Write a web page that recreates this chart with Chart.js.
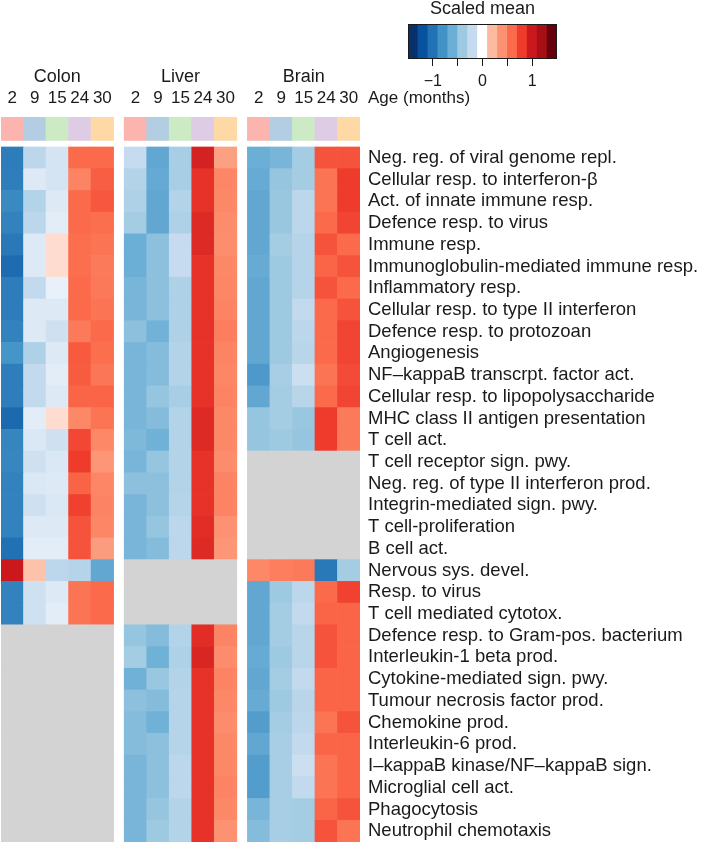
<!DOCTYPE html>
<html>
<head>
<meta charset="utf-8">
<title>Scaled mean by tissue and age</title>
<script src="https://cdn.jsdelivr.net/npm/chart.js@4.4.1/dist/chart.umd.min.js"></script>
<style>
    body { margin: 0; background: #fff; }
    #wrap { position: relative; width: 705px; height: 844px; }
    #heatmap { position: absolute; left: 0; top: 0; }
    #colorbar { position: absolute; left: 380px; top: 0; }
</style>
</head>
<body>
<div id="wrap">
    <canvas id="heatmap" width="705" height="844"></canvas>
    <canvas id="colorbar" width="200" height="90"></canvas>
</div>
<script>
'use strict';

/*
---- data ----
*/
const NA = null; // term not found for this tissue (grey cells)

const tissues = ['Colon', 'Liver', 'Brain'];
const ages = [2, 9, 15, 24, 30];
const ageColors = ['#fbb4ae', '#b3cde3', '#ccebc5', '#decbe4', '#fed9a6'];

const rowLabels = [
    'Neg. reg. of viral genome repl.',
    'Cellular resp. to interferon-β',
    'Act. of innate immune resp.',
    'Defence resp. to virus',
    'Immune resp.',
    'Immunoglobulin-mediated immune resp.',
    'Inflammatory resp.',
    'Cellular resp. to type II interferon',
    'Defence resp. to protozoan',
    'Angiogenesis',
    'NF–kappaB transcrpt. factor act.',
    'Cellular resp. to lipopolysaccharide',
    'MHC class II antigen presentation',
    'T cell act.',
    'T cell receptor sign. pwy.',
    'Neg. reg. of type II interferon prod.',
    'Integrin-mediated sign. pwy.',
    'T cell-proliferation',
    'B cell act.',
    'Nervous sys. devel.',
    'Resp. to virus',
    'T cell mediated cytotox.',
    'Defence resp. to Gram-pos. bacterium',
    'Interleukin-1 beta prod.',
    'Cytokine-mediated sign. pwy.',
    'Tumour necrosis factor prod.',
    'Chemokine prod.',
    'Interleukin-6 prod.',
    'I–kappaB kinase/NF–kappaB sign.',
    'Microglial cell act.',
    'Phagocytosis',
    'Neutrophil chemotaxis',
];

// one row per term, one column per age (2, 9, 15, 24, 30 months)
const colonVals = [
    [-0.93, -0.25, -0.15, 0.60, 0.60],
    [-0.92, -0.12, -0.15, 0.47, 0.65],
    [-0.85, -0.30, -0.12, 0.60, 0.68],
    [-0.90, -0.25, -0.10, 0.60, 0.58],
    [-0.95, -0.12, 0.10, 0.58, 0.55],
    [-1.03, -0.12, 0.10, 0.58, 0.52],
    [-0.93, -0.22, -0.08, 0.60, 0.53],
    [-0.93, -0.12, -0.12, 0.60, 0.55],
    [-0.90, -0.12, -0.17, 0.52, 0.60],
    [-0.78, -0.32, -0.12, 0.67, 0.58],
    [-0.92, -0.22, -0.10, 0.66, 0.54],
    [-0.92, -0.22, -0.12, 0.62, 0.62],
    [-1.05, -0.10, 0.10, 0.45, 0.55],
    [-0.88, -0.13, -0.17, 0.75, 0.45],
    [-0.87, -0.17, -0.13, 0.80, 0.38],
    [-0.90, -0.13, -0.12, 0.63, 0.46],
    [-0.90, -0.17, -0.13, 0.78, 0.47],
    [-0.90, -0.12, -0.12, 0.70, 0.46],
    [-1.00, -0.10, -0.10, 0.70, 0.35],
    [1.00, 0.18, -0.25, -0.28, -0.65],
    [-0.90, -0.17, -0.12, 0.55, 0.60],
    [-0.90, -0.17, -0.10, 0.55, 0.60],
    [NA, NA, NA, NA, NA],
    [NA, NA, NA, NA, NA],
    [NA, NA, NA, NA, NA],
    [NA, NA, NA, NA, NA],
    [NA, NA, NA, NA, NA],
    [NA, NA, NA, NA, NA],
    [NA, NA, NA, NA, NA],
    [NA, NA, NA, NA, NA],
    [NA, NA, NA, NA, NA],
    [NA, NA, NA, NA, NA],
];

const liverVals = [
    [-0.20, -0.65, -0.35, 0.95, 0.33],
    [-0.30, -0.63, -0.35, 0.85, 0.46],
    [-0.32, -0.65, -0.30, 0.85, 0.45],
    [-0.37, -0.65, -0.32, 0.90, 0.43],
    [-0.60, -0.47, -0.20, 0.90, 0.42],
    [-0.60, -0.47, -0.20, 0.85, 0.45],
    [-0.55, -0.47, -0.32, 0.85, 0.46],
    [-0.55, -0.47, -0.32, 0.85, 0.47],
    [-0.47, -0.57, -0.32, 0.85, 0.50],
    [-0.55, -0.50, -0.30, 0.85, 0.47],
    [-0.55, -0.50, -0.30, 0.85, 0.46],
    [-0.55, -0.43, -0.35, 0.85, 0.47],
    [-0.55, -0.50, -0.30, 0.90, 0.45],
    [-0.52, -0.58, -0.30, 0.90, 0.45],
    [-0.55, -0.43, -0.30, 0.85, 0.43],
    [-0.47, -0.47, -0.30, 0.85, 0.47],
    [-0.55, -0.47, -0.28, 0.85, 0.47],
    [-0.55, -0.43, -0.25, 0.88, 0.40],
    [-0.55, -0.50, -0.25, 0.90, 0.38],
    [NA, NA, NA, NA, NA],
    [NA, NA, NA, NA, NA],
    [NA, NA, NA, NA, NA],
    [-0.43, -0.50, -0.30, 0.88, 0.47],
    [-0.37, -0.58, -0.32, 0.92, 0.43],
    [-0.58, -0.42, -0.30, 0.85, 0.47],
    [-0.47, -0.50, -0.28, 0.85, 0.45],
    [-0.50, -0.58, -0.28, 0.85, 0.43],
    [-0.50, -0.47, -0.28, 0.85, 0.45],
    [-0.55, -0.47, -0.25, 0.85, 0.45],
    [-0.55, -0.47, -0.25, 0.85, 0.47],
    [-0.55, -0.43, -0.30, 0.85, 0.45],
    [-0.55, -0.40, -0.30, 0.85, 0.40],
];

const brainVals = [
    [-0.60, -0.55, -0.37, 0.70, 0.70],
    [-0.62, -0.43, -0.37, 0.55, 0.80],
    [-0.65, -0.42, -0.25, 0.55, 0.80],
    [-0.65, -0.42, -0.25, 0.60, 0.76],
    [-0.65, -0.37, -0.28, 0.70, 0.60],
    [-0.62, -0.40, -0.28, 0.62, 0.70],
    [-0.65, -0.40, -0.28, 0.70, 0.60],
    [-0.65, -0.40, -0.22, 0.60, 0.70],
    [-0.65, -0.40, -0.25, 0.60, 0.76],
    [-0.65, -0.40, -0.27, 0.60, 0.76],
    [-0.75, -0.35, -0.18, 0.55, 0.73],
    [-0.65, -0.37, -0.27, 0.60, 0.76],
    [-0.43, -0.37, -0.42, 0.80, 0.52],
    [-0.43, -0.40, -0.43, 0.80, 0.52],
    [NA, NA, NA, NA, NA],
    [NA, NA, NA, NA, NA],
    [NA, NA, NA, NA, NA],
    [NA, NA, NA, NA, NA],
    [NA, NA, NA, NA, NA],
    [0.45, 0.50, 0.52, -0.95, -0.37],
    [-0.65, -0.40, -0.25, 0.60, 0.77],
    [-0.65, -0.37, -0.22, 0.62, 0.62],
    [-0.65, -0.37, -0.27, 0.70, 0.62],
    [-0.62, -0.40, -0.27, 0.70, 0.62],
    [-0.65, -0.37, -0.22, 0.62, 0.62],
    [-0.62, -0.40, -0.27, 0.62, 0.62],
    [-0.72, -0.37, -0.25, 0.55, 0.70],
    [-0.65, -0.35, -0.22, 0.62, 0.62],
    [-0.72, -0.35, -0.18, 0.55, 0.62],
    [-0.72, -0.35, -0.22, 0.55, 0.62],
    [-0.55, -0.35, -0.37, 0.62, 0.70],
    [-0.50, -0.35, -0.37, 0.70, 0.55],
];

// colour scale (bin centres) and colour bar bins
const scaleStops = [-1.4, -1.2, -1.0, -0.8, -0.6, -0.4, -0.2, 0, 0.2, 0.4, 0.6, 0.8, 1.0, 1.2, 1.4];
const scaleColors = ['#08306b', '#08519c', '#2171b5', '#4292c6', '#6baed6', '#9ecae1', '#c6dbef', '#ffffff',
                     '#fcbba1', '#fc9272', '#fb6a4a', '#ef3b2c', '#cb181d', '#a50f15', '#67000d'];
const binEdges = [-1.5, -1.3, -1.1, -0.9, -0.7, -0.5, -0.3, -0.1, 0.1, 0.3, 0.5, 0.7, 0.9, 1.1, 1.3, 1.5];
const barTicks = [-1, -0.5, 0, 0.5, 1];
const barTickLabels = ['−1', '', '0', '', '1'];

/*
---- look ----
*/
const missingColor = '#d3d3d3';
const textColor = '#1a1a1a';
const fontFamily = "'Liberation Sans', Arial, sans-serif";
const tissueOffset = [0, 5.47, 10.94]; // x position of the first column of each tissue block
const xMin = -0.5;
const xMax = 15.44;
const stripTop = -1.38;   // age colour strip above the cells
const stripBottom = -0.3;

function hexToRgb(hex) {
    const n = parseInt(hex.slice(1), 16);
    return [(n >> 16) & 255, (n >> 8) & 255, n & 255];
}

function valueToColor(v) {
    if (v === null) return missingColor;
    const last = scaleStops.length - 1;
    if (v <= scaleStops[0]) return scaleColors[0];
    if (v >= scaleStops[last]) return scaleColors[last];
    let i = 0;
    while (scaleStops[i + 1] < v) i++;
    const f = (v - scaleStops[i]) / (scaleStops[i + 1] - scaleStops[i]);
    const a = hexToRgb(scaleColors[i]);
    const b = hexToRgb(scaleColors[i + 1]);
    const c = a.map((x, k) => Math.round(x + (b[k] - x) * f));
    return `rgb(${c[0]},${c[1]},${c[2]})`;
}

/*
---- heatmap ----
*/
const tissueVals = [colonVals, liverVals, brainVals];
const colPositions = [];
tissueOffset.forEach(off => ages.forEach((a, j) => colPositions.push(off + j)));

const datasets = tissueVals.map((vals, t) => {
    const points = [];
    const colors = [];
    // age strip
    ages.forEach((age, j) => {
        points.push({ x: tissueOffset[t] + j, y: [stripTop, stripBottom] });
        colors.push(ageColors[j]);
    });
    vals.forEach((row, r) => {
        row.forEach((v, j) => {
            points.push({ x: tissueOffset[t] + j, y: [r, r + 1] });
            colors.push(valueToColor(v));
        });
    });
    return {
        label: tissues[t],
        data: points,
        backgroundColor: colors,
        borderWidth: 0,
        grouped: false,
        barPercentage: 1,
        categoryPercentage: 1,
    };
});

// "Age (months)" sits right of the age tick labels
const ageTitlePlugin = {
    id: 'ageTitle',
    afterDraw(chart) {
        const { ctx, chartArea } = chart;
        const xs = chart.scales.x;
        ctx.save();
        ctx.font = `17px ${fontFamily}`;
        ctx.fillStyle = textColor;
        ctx.textAlign = 'left';
        ctx.textBaseline = 'middle';
        ctx.fillText('Age (months)', chartArea.right + 8, xs.bottom - 8 - 17 * 0.6);
        ctx.restore();
    }
};

const heatmap = new Chart(document.getElementById('heatmap'), {
    type: 'bar',
    data: { datasets: datasets },
    options: {
        responsive: false,
        animation: false,
        layout: { padding: { left: 1, right: 0, top: 0, bottom: 2 } },
        plugins: {
            legend: { display: false },
            tooltip: { enabled: false },
        },
        scales: {
            x: {
                type: 'linear',
                position: 'top',
                weight: 0,
                min: xMin,
                max: xMax,
                offset: false,
                grid: { display: false, drawTicks: false, offset: false },
                border: { display: false },
                afterBuildTicks: (s) => { s.ticks = colPositions.map(v => ({ value: v })); },
                ticks: {
                    autoSkip: false,
                    maxRotation: 0,
                    padding: 8,
                    color: textColor,
                    font: { family: fontFamily, size: 17, lineHeight: 1.2 },
                    callback: (v, i) => String(ages[i % ages.length]),
                },
                afterFit: (s) => { s.height = 26; s.paddingLeft = 0; s.paddingRight = 0; },
            },
            x2: {
                type: 'linear',
                axis: 'x',
                position: 'top',
                weight: 1,
                min: xMin,
                max: xMax,
                offset: false,
                grid: { display: false, drawTicks: false, offset: false },
                border: { display: false },
                afterBuildTicks: (s) => { s.ticks = tissueOffset.map(v => ({ value: v + 2 })); },
                ticks: {
                    autoSkip: false,
                    maxRotation: 0,
                    padding: 3,
                    color: textColor,
                    font: { family: fontFamily, size: 18, lineHeight: 1.2 },
                    callback: (v, i) => tissues[i],
                },
                afterFit: (s) => { s.height = 91; s.paddingLeft = 0; s.paddingRight = 0; },
            },
            y: {
                type: 'linear',
                position: 'right',
                reverse: true,
                min: stripTop,
                max: rowLabels.length,
                grid: { display: false, drawTicks: false },
                border: { display: false },
                afterBuildTicks: (s) => { s.ticks = rowLabels.map((l, i) => ({ value: i + 0.5 })); },
                ticks: {
                    autoSkip: false,
                    padding: 8,
                    color: textColor,
                    font: { family: fontFamily, size: 18.5, lineHeight: 1.2 },
                    callback: (v, i) => rowLabels[i],
                },
                afterFit: (s) => { s.width = 345; s.paddingTop = 0; s.paddingBottom = 0; },
            },
        },
    },
    plugins: [ageTitlePlugin],
});

/*
---- colour bar ----
*/
const outlinePlugin = {
    id: 'outline',
    afterDatasetsDraw(chart) {
        const { ctx, chartArea: a } = chart;
        ctx.save();
        ctx.strokeStyle = textColor;
        ctx.lineWidth = 1;
        ctx.strokeRect(a.left + 0.5, a.top + 0.5, a.right - a.left - 1, a.bottom - a.top - 1);
        ctx.restore();
    }
};

const bins = scaleColors.map((c, i) => ({ x: [binEdges[i], binEdges[i + 1]], y: 'scale' }));

const colorbar = new Chart(document.getElementById('colorbar'), {
    type: 'bar',
    data: {
        labels: ['scale'],
        datasets: [{
            data: bins,
            backgroundColor: scaleColors,
            borderWidth: 0,
            grouped: false,
            barPercentage: 1,
            categoryPercentage: 1,
        }],
    },
    options: {
        indexAxis: 'y',
        responsive: false,
        animation: false,
        layout: { padding: { left: 28, right: 23, top: 0, bottom: 0 } },
        plugins: {
            legend: { display: false },
            tooltip: { enabled: false },
            title: {
                display: true,
                text: 'Scaled mean',
                color: textColor,
                font: { family: fontFamily, size: 18, weight: 'normal', lineHeight: 1 },
                padding: { top: 0, bottom: 6 },
            },
        },
        scales: {
            x: {
                type: 'linear',
                position: 'bottom',
                min: binEdges[0],
                max: binEdges[binEdges.length - 1],
                grid: { drawOnChartArea: false, drawTicks: true, tickLength: 7, color: textColor },
                border: { display: false },
                afterBuildTicks: (s) => { s.ticks = barTicks.map(v => ({ value: v })); },
                ticks: {
                    autoSkip: false,
                    maxRotation: 0,
                    padding: 6,
                    color: textColor,
                    font: { family: fontFamily, size: 16, lineHeight: 1.2 },
                    callback: (v, i) => barTickLabels[i],
                },
                afterFit: (s) => { s.height = 31; },
            },
            y: { display: false },
        },
    },
    plugins: [outlinePlugin],
});
</script>
</body>
</html>
